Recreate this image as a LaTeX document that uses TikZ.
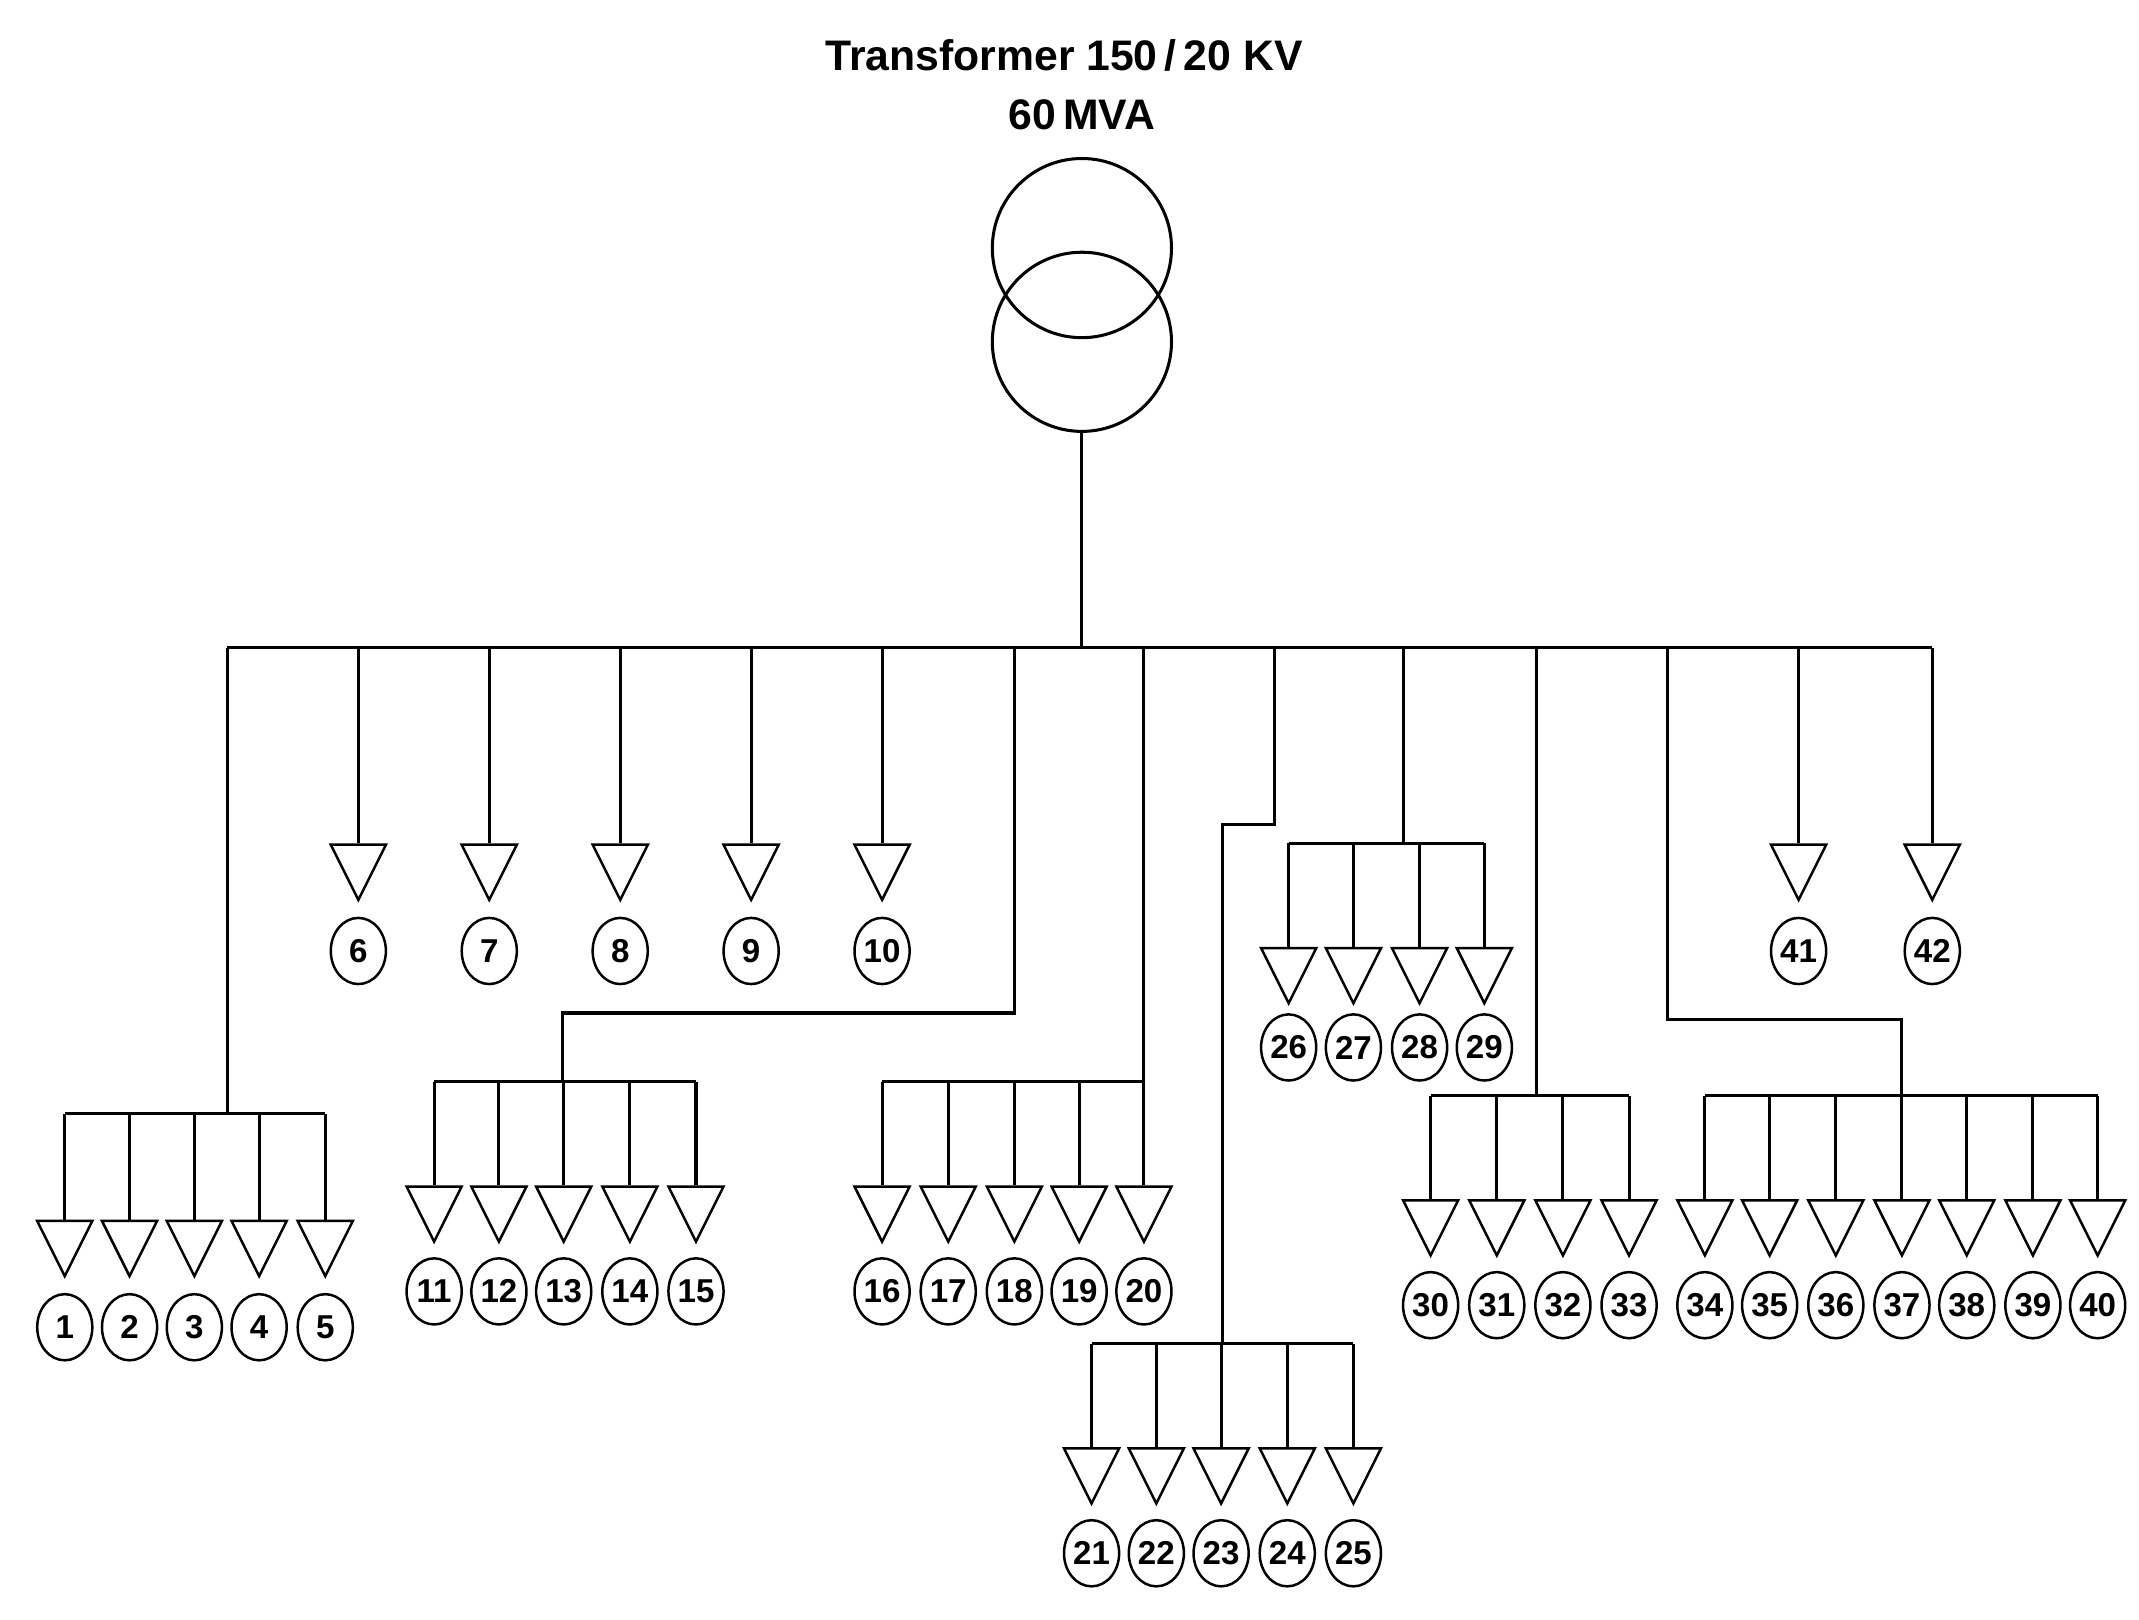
\documentclass[tikz,border=0pt]{standalone}
\usepackage{fontspec}
\setmainfont{Liberation Sans}
\usetikzlibrary{shapes.geometric}
\begin{document}
\begin{tikzpicture}[x=1pt,y=-1pt,line width=2.2pt,
  load/.style={draw,fill=white,isosceles triangle,shape border rotate=-90,isosceles triangle stretches,minimum width=40pt,minimum height=40pt,inner sep=0pt,line width=1.8pt},
  num/.style={draw,ellipse,minimum width=40pt,minimum height=48pt,inner sep=0pt,font=\bfseries\fontsize{24}{24}\selectfont,line width=1.8pt},
  title/.style={font=\bfseries\fontsize{31}{31}\selectfont}]
\useasboundingbox (0,0) rectangle (1552,1175);
\node[title] (t1) at (772,40) {Transformer 150\,/\,20 KV};
\node[title] (t2) at (785,83) {60\,MVA};
\draw (785,180) circle (65);
\draw (785,248) circle (65);
\coordinate (tr) at (785,313);
\coordinate (bb) at (785,470);
\draw (tr) -- (bb);
\draw (165,470) -- (1402,470);
\newcommand\ld[4]{%
  \node[load,anchor=north] (L#1) at (#2,#3) {};
  \node[num] (N#1) at (#2,#4) {#1};}
\foreach \n/\x in {6/260,7/355,8/450,9/545,10/640,41/1305,42/1402}{
  \ld{\n}{\x}{612}{690}
  \draw (\x,470) -- (L\n.north);}
\draw (165,470) -- (165,808);
\draw (47,808) -- (236,808);
\foreach \n/\x in {1/47,2/94,3/141,4/188,5/236}{
  \ld{\n}{\x}{885}{963}\draw (\x,808) -- (L\n.north);}
\draw (736,470) -- (736,735) -- (408,735) -- (408,785);
\draw (315,785) -- (505,785);
\foreach \n/\x in {11/315,12/362,13/409,14/457,15/505}{
  \ld{\n}{\x}{860}{937}\draw (\x,785) -- (L\n.north);}
\draw (830,470) -- (830,785);
\draw (640,785) -- (830,785);
\foreach \n/\x in {16/640,17/688,18/736,19/783,20/830}{
  \ld{\n}{\x}{860}{937}\draw (\x,785) -- (L\n.north);}
\draw (925,470) -- (925,598) -- (887,598) -- (887,975);
\draw (792,975) -- (982,975);
\foreach \n/\x in {21/792,22/839,23/886,24/934,25/982}{
  \ld{\n}{\x}{1050}{1127}\draw (\x,975) -- (L\n.north);}
\draw (1018,470) -- (1018,612);
\draw (935,612) -- (1077,612);
\foreach \n/\x in {26/935,27/982,28/1030,29/1077}{
  \ld{\n}{\x}{687}{760}\draw (\x,612) -- (L\n.north);}
\draw (1115,470) -- (1115,795);
\draw (1038,795) -- (1182,795);
\foreach \n/\x in {30/1038,31/1086,32/1134,33/1182}{
  \ld{\n}{\x}{870}{947}\draw (\x,795) -- (L\n.north);}
\draw (1210,470) -- (1210,740) -- (1380,740) -- (1380,795);
\draw (1237,795) -- (1522,795);
\foreach \n/\x in {34/1237,35/1284,36/1332,37/1380,38/1427,39/1475,40/1522}{
  \ld{\n}{\x}{870}{947}\draw (\x,795) -- (L\n.north);}
\end{tikzpicture}
\end{document}
